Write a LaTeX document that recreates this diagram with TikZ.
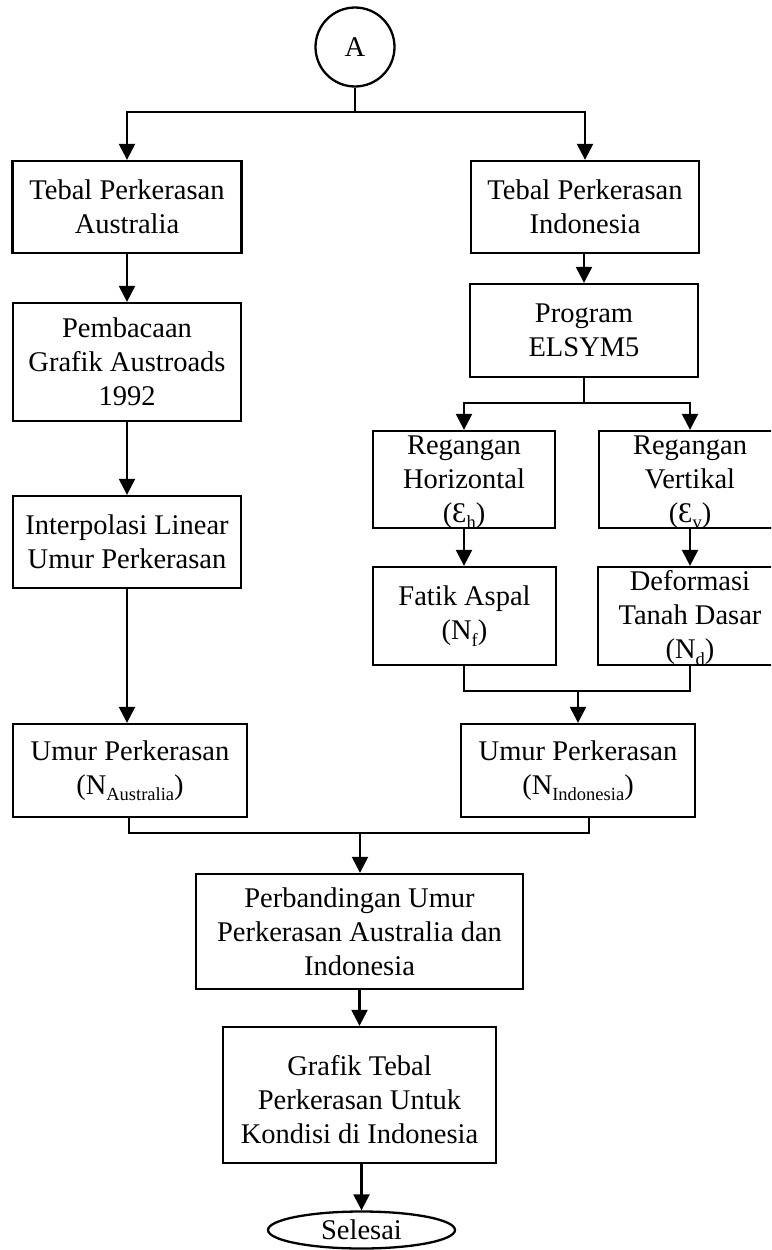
\documentclass[tikz,border=0pt]{standalone}
\usepackage{fontspec}
\setmainfont{Liberation Serif}
\usetikzlibrary{arrows.meta,shapes.geometric,calc}
\newcommand\sbs[1]{\raisebox{-0.22em}{\fontsize{18.5}{18.5}\selectfont #1}}
\tikzset{
  box/.style={draw, line width=2.3pt, inner sep=0pt, align=center,
    font={\fontsize{28.5}{34}\selectfont}},
  txt/.style={inner sep=0pt, align=center, font={\fontsize{28.5}{34}\selectfont}},
  con/.style={line width=2.3pt},
  arr/.style={line width=2.3pt, -{Triangle[width=16pt,length=16pt]}},
}
\begin{document}
\begin{tikzpicture}[x=1pt,y=-1pt]
\clip (0,0) rectangle (771,1250);
\fill[white] (0,0) rectangle (771,1250);
% nodes
\node[box, circle, minimum size=79pt] (A) at (355,47) {A};
\node[box, minimum width=229pt, minimum height=92pt] (ta) at (127,207) {Tebal Perkerasan\\Australia};
\node[box, minimum width=228pt, minimum height=92pt] (ti) at (585,207) {Tebal Perkerasan\\Indonesia};
\node[box, minimum width=228pt, minimum height=118pt] (pb) at (127,362) {Pembacaan\\Grafik Austroads\\1992};
\node[box, minimum width=228pt, minimum height=92pt] (ip) at (127,542) {Interpolasi Linear\\Umur Perkerasan};
\node[box, minimum width=234pt, minimum height=93pt] (ua) at (130,770.5) {Umur Perkerasan\\(N\sbs{Australia})};
\node[box, minimum width=228pt, minimum height=93pt] (pr) at (584,330.5) {Program\\ELSYM5};
\node[box, minimum width=182pt, minimum height=97pt] (rh) at (464,479.5) {};
\node[box, minimum width=182pt, minimum height=97pt] (rv) at (690,479.5) {};
\node[box, minimum width=183pt, minimum height=98pt] (fa) at (464.5,616) {Fatik Aspal\\(N\sbs{f})};
\node[box, minimum width=184pt, minimum height=98pt] (df) at (690,616) {};
\node[box, minimum width=234pt, minimum height=93pt] (ui) at (578,770.5) {Umur Perkerasan\\(N\sbs{Indonesia})};
\node[box, minimum width=327pt, minimum height=115pt] (pe) at (359.5,931.5) {Perbandingan Umur\\Perkerasan Australia dan\\Indonesia};
\node[box, minimum width=273pt, minimum height=136pt] (gr) at (359.5,1095) {};
\node[box, ellipse, minimum width=187pt, minimum height=37pt] (se) at (361.5,1230) {Selesai};
% junctions
\coordinate (s1) at (355,112);
\coordinate (s2) at (584,403);
\coordinate (s3) at (578,691);
\coordinate (s4) at (360,833);
% connectors
\draw[con] (A.south) -- (s1);
\draw[arr] (s1) -| (ta.north);
\draw[arr] (s1) -| (ti.north);
\draw[arr] (ta.south) -- (pb.north);
\draw[arr] (pb.south) -- (ip.north);
\draw[arr] (ip.south) -- (ua.north -| ip.south);
\draw[arr] (ti.south -| pr.north) -- (pr.north);
\draw[con] (pr.south) -- (s2);
\draw[arr] (s2) -| (rh.north);
\draw[arr] (s2) -| (rv.north);
\draw[arr] (rh.south) -- (fa.north -| rh.south);
\draw[arr] (rv.south) -- (df.north);
\draw[con] (fa.south -| rh.south) |- (s3) -| (df.south);
\draw[arr] (s3) -- (ui.north);
\draw[con] ([xshift=-1pt]ua.south) |- (s4);
\draw[con] ([xshift=11pt]ui.south) |- (s4);
\draw[arr] (s4) -- (pe.north -| s4);
\draw[arr] (pe.south) -- (gr.north);
\draw[arr] (gr.south -| se.north) -- (se.north);
% texts placed inside boxes
\node[txt] (rht) at ($(rh.center)+(0,3)$) {Regangan\\Horizontal\\(Ɛ\sbs{h})};
\node[txt] (rvt) at ($(rv.center)+(0,3)$) {Regangan\\Vertikal\\(Ɛ\sbs{v})};
\node[txt] (dft) at ($(df.center)+(0,2)$) {Deformasi\\Tanah Dasar\\(N\sbs{d})};
\node[txt] (grt) at ($(gr.center)+(0,5)$) {Grafik Tebal\\Perkerasan Untuk\\Kondisi di Indonesia};
\end{tikzpicture}
\end{document}
